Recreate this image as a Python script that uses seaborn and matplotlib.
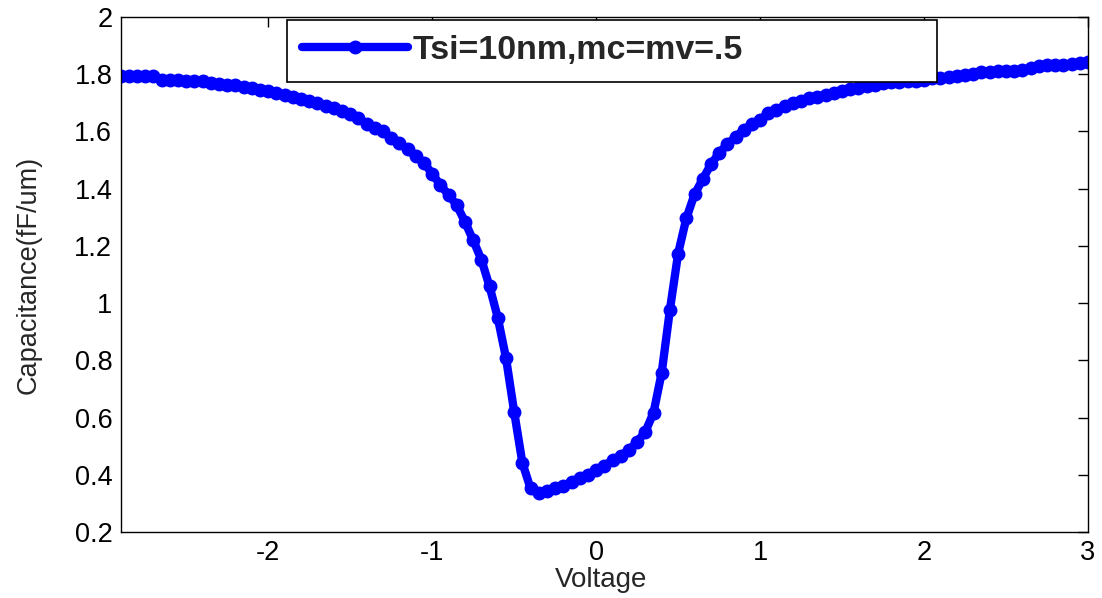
import matplotlib
matplotlib.use("Agg")
import matplotlib.pyplot as plt
import seaborn as sns
import pandas as pd

# Gate voltage sweep (V)
voltage = [
    -2.90, -2.85, -2.80, -2.75, -2.70, -2.65, -2.60, -2.55, -2.50, -2.45,
    -2.40, -2.35, -2.30, -2.25, -2.20, -2.15, -2.10, -2.05, -2.00, -1.95,
    -1.90, -1.85, -1.80, -1.75, -1.70, -1.65, -1.60, -1.55, -1.50, -1.45,
    -1.40, -1.35, -1.30, -1.25, -1.20, -1.15, -1.10, -1.05, -1.00, -0.95,
    -0.90, -0.85, -0.80, -0.75, -0.70, -0.65, -0.60, -0.55, -0.50, -0.45,
    -0.40, -0.35, -0.30, -0.25, -0.20, -0.15, -0.10, -0.05, 0.00, 0.05,
    0.10, 0.15, 0.20, 0.25, 0.30, 0.35, 0.40, 0.45, 0.50, 0.55,
    0.60, 0.65, 0.70, 0.75, 0.80, 0.85, 0.90, 0.95, 1.00, 1.05,
    1.10, 1.15, 1.20, 1.25, 1.30, 1.35, 1.40, 1.45, 1.50, 1.55,
    1.60, 1.65, 1.70, 1.75, 1.80, 1.85, 1.90, 1.95, 2.00, 2.05,
    2.10, 2.15, 2.20, 2.25, 2.30, 2.35, 2.40, 2.45, 2.50, 2.55,
    2.60, 2.65, 2.70, 2.75, 2.80, 2.85, 2.90, 2.95, 3.00,
]

# Gate capacitance per unit width (fF/um)
capacitance = [
    1.793, 1.795, 1.794, 1.795, 1.792, 1.780, 1.778, 1.779, 1.776, 1.777,
    1.776, 1.770, 1.765, 1.764, 1.762, 1.757, 1.752, 1.746, 1.742, 1.736,
    1.727, 1.722, 1.714, 1.706, 1.698, 1.690, 1.681, 1.670, 1.660, 1.646,
    1.627, 1.612, 1.600, 1.578, 1.558, 1.537, 1.513, 1.490, 1.452, 1.413,
    1.378, 1.342, 1.284, 1.220, 1.152, 1.058, 0.949, 0.809, 0.620, 0.442,
    0.352, 0.336, 0.342, 0.352, 0.362, 0.375, 0.388, 0.400, 0.418, 0.432,
    0.450, 0.467, 0.486, 0.515, 0.550, 0.617, 0.757, 0.977, 1.173, 1.296,
    1.380, 1.433, 1.485, 1.524, 1.555, 1.580, 1.606, 1.625, 1.640, 1.665,
    1.676, 1.688, 1.698, 1.707, 1.716, 1.722, 1.727, 1.735, 1.742, 1.748,
    1.752, 1.758, 1.763, 1.768, 1.772, 1.774, 1.776, 1.777, 1.780, 1.785,
    1.788, 1.790, 1.792, 1.797, 1.802, 1.806, 1.808, 1.810, 1.812, 1.812,
    1.815, 1.820, 1.830, 1.833, 1.833, 1.833, 1.835, 1.840, 1.842,
]

series_label = "Tsi=10nm,mc=mv=.5"
x_ticks = [-2, -1, 0, 1, 2, 3]
y_ticks = [0.2, 0.4, 0.6, 0.8, 1.0, 1.2, 1.4, 1.6, 1.8, 2.0]
y_tick_labels = ["0.2", "0.4", "0.6", "0.8", "1", "1.2", "1.4", "1.6", "1.8", "2"]

df = pd.DataFrame({"Voltage": voltage, "Capacitance": capacitance,
                   "series": series_label})

sns.set_style("white")
plt.rcParams["font.family"] = ["Liberation Sans", "DejaVu Sans"]

fig = plt.figure(figsize=(11.02, 5.98), dpi=100)
ax = fig.add_axes([0.1095, 0.1104, 0.8778, 0.8612])

sns.lineplot(data=df, x="Voltage", y="Capacitance", hue="series",
             palette=["#0000ff"], sort=False, estimator=None, ax=ax,
             linewidth=6.0, marker="o", markersize=8.5,
             markeredgecolor="#0000ff", markeredgewidth=1.5)

ax.set_xlim(-2.9, 3.0)
ax.set_ylim(0.2, 2.0)
ax.set_xticks(x_ticks)
ax.set_xticklabels([str(t) for t in x_ticks])
ax.set_yticks(y_ticks)
ax.set_yticklabels(y_tick_labels)

ax.tick_params(direction="in", length=7, width=1, top=True, right=True,
               labelsize=19.5, colors="black", pad=6)
for s in ax.spines.values():
    s.set_color("black")
    s.set_linewidth(1.0)
    s.set_visible(True)

ax.set_xlabel("Voltage", fontsize=20)
ax.set_ylabel("Capacitance(fF/um)", fontsize=19.5)
ax.xaxis.set_label_coords(0.497, -0.068)
ax.yaxis.set_label_coords(-0.082, 0.5)

leg = ax.legend(loc="upper left", bbox_to_anchor=(0.172, 0.874, 0.672, 0.12),
                mode="expand", frameon=True, fancybox=False, shadow=False,
                prop={"weight": "bold", "size": 24.5}, handlelength=3.1,
                handletextpad=0.15, borderpad=0.45, borderaxespad=0.0,
                framealpha=1.0)
leg.get_frame().set_edgecolor("black")
leg.get_frame().set_linewidth(1.2)
leg.set_zorder(5)

fig.savefig("out.png", dpi=100)
